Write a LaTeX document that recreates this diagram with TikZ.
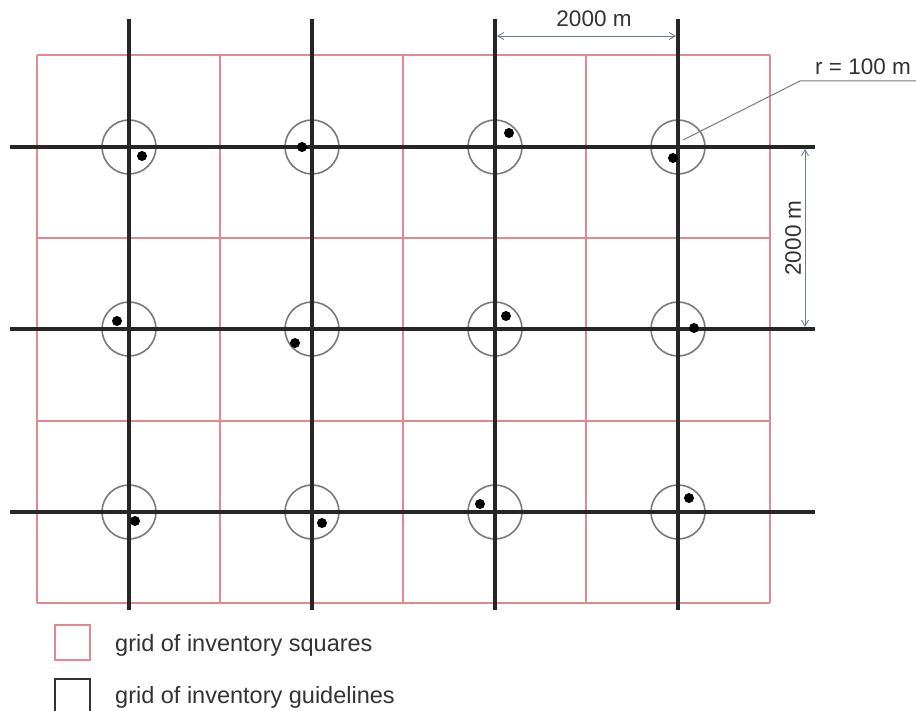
\documentclass[tikz,border=0pt]{standalone}
\usepackage{fontspec}
\setmainfont{Liberation Sans}
\usetikzlibrary{arrows.meta}
\definecolor{sqred}{HTML}{E38890}
\definecolor{circgray}{HTML}{7A7A7A}
\definecolor{dimcol}{HTML}{6E7C8E}
\begin{document}
\begin{tikzpicture}[x=1pt,y=-1pt,
  sqline/.style={draw=sqred,line width=1.4pt},
  guideline/.style={draw=black!85,line width=3.2pt},
  plotcircle/.style={draw=circgray,line width=1.6pt},
  plotdot/.style={fill=black,circle,inner sep=0pt,minimum size=10pt},
  dimline/.style={draw=dimcol,line width=0.9pt,{Straight Barb[length=6pt,width=7pt]}-{Straight Barb[length=6pt,width=7pt]}},
  leader/.style={draw=circgray,line width=1pt},
  lbl/.style={font=\fontsize{22.5}{26}\selectfont,text=black!80,inner sep=0pt},
  leglbl/.style={font=\fontsize{23.5}{27}\selectfont,text=black!80,inner sep=0pt},
]
\useasboundingbox[fill=white] (0,0) rectangle (916,711);
% red grid of inventory squares
\foreach \x in {37,220,403,586,770} \draw[sqline] (\x,55) -- (\x,603);
\foreach \y in {55,238,421,603} \draw[sqline] (37,\y) -- (770,\y);
% intersections and circles
\foreach \x [count=\i] in {129,312,495,678}
  \foreach \y [count=\j] in {147,329,512} {
    \coordinate (c\i\j) at (\x,\y);
    \draw[plotcircle] (c\i\j) circle[radius=27];
  }
% guidelines
\foreach \x [count=\i] in {129,312,495,678} {
  \coordinate (vt\i) at (\x,19);
  \coordinate (vb\i) at (\x,610);
  \draw[guideline] (vt\i) -- (vb\i);
}
\foreach \y [count=\j] in {147,329,512} {
  \coordinate (hl\j) at (10,\y);
  \coordinate (hr\j) at (815,\y);
  \draw[guideline] (hl\j) -- (hr\j);
}
% plot dots
\node[plotdot] (d11) at (142,156) {};
\node[plotdot] (d21) at (302,147) {};
\node[plotdot] (d31) at (509,133) {};
\node[plotdot] (d41) at (673,158) {};
\node[plotdot] (d12) at (117,321) {};
\node[plotdot] (d22) at (295,343) {};
\node[plotdot] (d32) at (506,316) {};
\node[plotdot] (d42) at (694,328) {};
\node[plotdot] (d13) at (135,521) {};
\node[plotdot] (d23) at (322,523) {};
\node[plotdot] (d33) at (480,504) {};
\node[plotdot] (d43) at (689,498) {};
% horizontal dimension
\coordinate (dhA) at (497,36);
\coordinate (dhB) at (676,36);
\draw[dimline] (dhA) -- (dhB);
\node[lbl,anchor=base] (dimtop) at (594,27) {2000 m};
% vertical dimension
\coordinate (dvA) at (805,149);
\coordinate (dvB) at (805,327);
\draw[dimline] (dvA) -- (dvB);
\node[lbl,rotate=90,anchor=center] (dimside) at (793,238) {2000 m};
% radius leader
\coordinate (lk) at (800,81);
\coordinate (le) at (916,81);
\draw[leader] (683,140) -- (lk) -- (le);
\node[lbl,anchor=base west] (rlabel) at (815,75) {r = 100 m};
% legend
\node[draw=sqred,line width=1.4pt,minimum width=35pt,minimum height=35pt,inner sep=0pt] (legsq) at (72.5,642.5) {};
\node[draw=black!80,line width=2pt,minimum width=35pt,minimum height=35pt,inner sep=0pt] (leggl) at (72.5,696) {};
\node[leglbl,anchor=base west] (legsqt) at (115,651) {grid of inventory squares};
\node[leglbl,anchor=base west] (legglt) at (115,703) {grid of inventory guidelines};
\end{tikzpicture}
\end{document}
